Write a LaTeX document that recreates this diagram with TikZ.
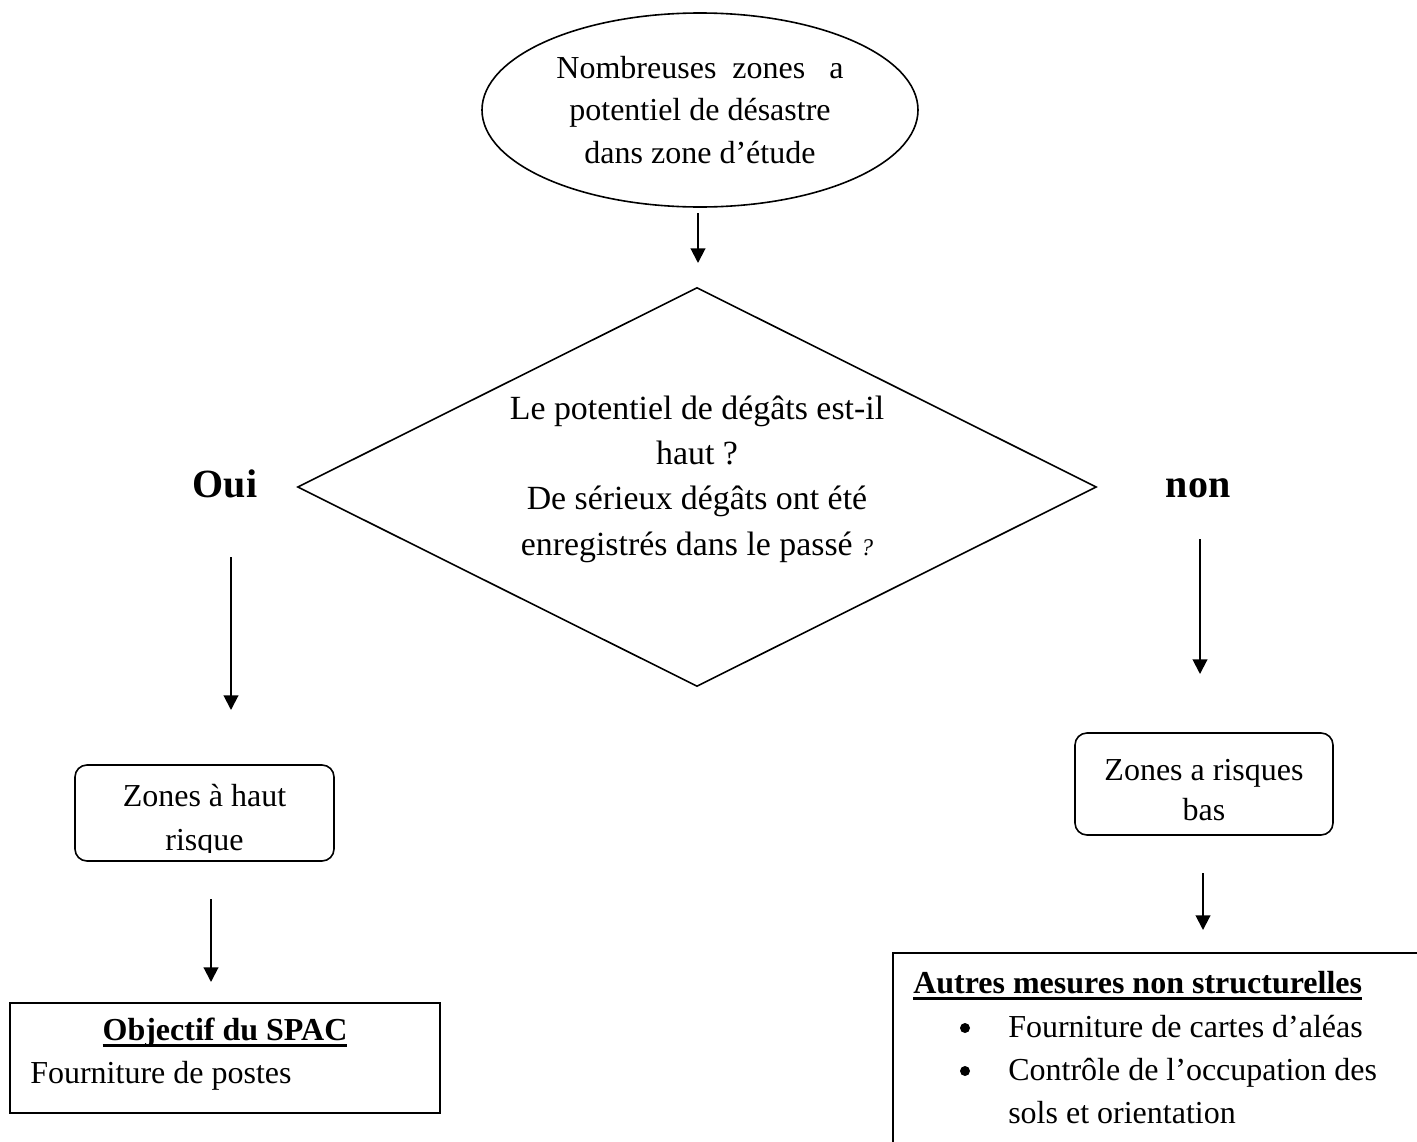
\documentclass[tikz,border=0pt]{standalone}
\usepackage{fontspec}
\setmainfont{Liberation Serif}
\usetikzlibrary{shapes.geometric,arrows.meta}
\newcommand\thickul[1]{\setbox0\hbox{#1}\rlap{\rule[-5pt]{\wd0}{2pt}}\box0}
\begin{document}
\begin{tikzpicture}[x=0.75pt,y=-0.75pt,
  body/.style={font=\fontsize{24pt}{32pt}\selectfont, inner sep=0},
  shp/.style={draw, line width=1.2pt, inner sep=0},
  bx/.style={draw, line width=1.6pt, inner sep=0},
  arr/.style={line width=1.5pt, -{Triangle[length=11pt,width=11pt]}},
  yn/.style={font=\bfseries\fontsize{30pt}{36pt}\selectfont, inner sep=0, anchor=base},
  bul/.style={circle, fill, inner sep=0, minimum size=7.5pt}]
\useasboundingbox (0,0) rectangle (1417,1142);

% start ellipse
\node[shp, ellipse, minimum width=327pt, minimum height=145.5pt, body, align=center]
  (start) at (700,110) {Nombreuses\ \ zones\ \ \ a\\potentiel de désastre\\dans zone d’étude};

% decision diamond
\node[shp, diamond, minimum width=599.25pt, minimum height=299.25pt] (q) at (697,487) {};
\node[font=\fontsize{25.4pt}{34pt}\selectfont, align=center, inner sep=0] (qt) at (697,479)
  {Le potentiel de dégâts est-il\\haut ?\\De sérieux dégâts ont été\\enregistrés dans le passé {\fontsize{18pt}{20pt}\selectfont\itshape ?}};

\node[yn] (oui) at (225,497) {Oui};
\node[yn] (non) at (1198,497) {non};

% left rounded box
\node[shp, rounded corners=9pt, minimum width=194.25pt, minimum height=72pt] (hi) at (204.5,813) {};
\begin{scope}
  \clip (75,765) rectangle (334,852);
  \node[font=\fontsize{24pt}{33pt}\selectfont, align=center, inner sep=0] (hit) at (204.5,821) {Zones à haut\\risque};
\end{scope}

% right rounded box
\node[shp, rounded corners=9pt, minimum width=193.5pt, minimum height=76.5pt] (lo) at (1204,784) {};
\node[font=\fontsize{24pt}{30pt}\selectfont, align=center, inner sep=0] (lot) at (1204,790) {Zones a risques\\bas};

% bottom-left box
\node[bx, minimum width=322.5pt, minimum height=82.5pt] (obj) at (225,1058) {};
\node[body, font=\bfseries\fontsize{24pt}{32pt}\selectfont, anchor=base] (objt) at (225,1040) {\thickul{Objectif du SPAC}};
\node[body, anchor=base west] (objl) at (30,1083) {Fourniture de postes};

% bottom-right box (runs off the page)
\node[bx, minimum width=402.75pt, minimum height=155.25pt] (aut) at (1161.5,1056.5) {};
\node[body, font=\bfseries\fontsize{24pt}{32pt}\selectfont, anchor=base west] (autt) at (913,993) {\thickul{Autres mesures non structurelles}};
\node[bul] (b1) at (965,1028) {};
\node[bul] (b2) at (965,1071) {};
\node[body, anchor=base west] (l1) at (1008,1037) {Fourniture de cartes d’aléas};
\node[body, anchor=base west] (l2) at (1008,1080) {Contrôle de l’occupation des};
\node[body, anchor=base west] (l3) at (1008,1123) {sols et orientation};

% arrows
\coordinate (a1s) at (698,213); \coordinate (a1e) at (698,263);
\coordinate (a2s) at (231,557); \coordinate (a2e) at (231,710);
\coordinate (a3s) at (1200,539); \coordinate (a3e) at (1200,674);
\coordinate (a4s) at (211,899); \coordinate (a4e) at (211,982);
\coordinate (a5s) at (1203,873); \coordinate (a5e) at (1203,930);
\draw[arr] (a1s) -- (a1e);
\draw[arr] (a2s) -- (a2e);
\draw[arr] (a3s) -- (a3e);
\draw[arr] (a4s) -- (a4e);
\draw[arr] (a5s) -- (a5e);
\end{tikzpicture}
\end{document}
